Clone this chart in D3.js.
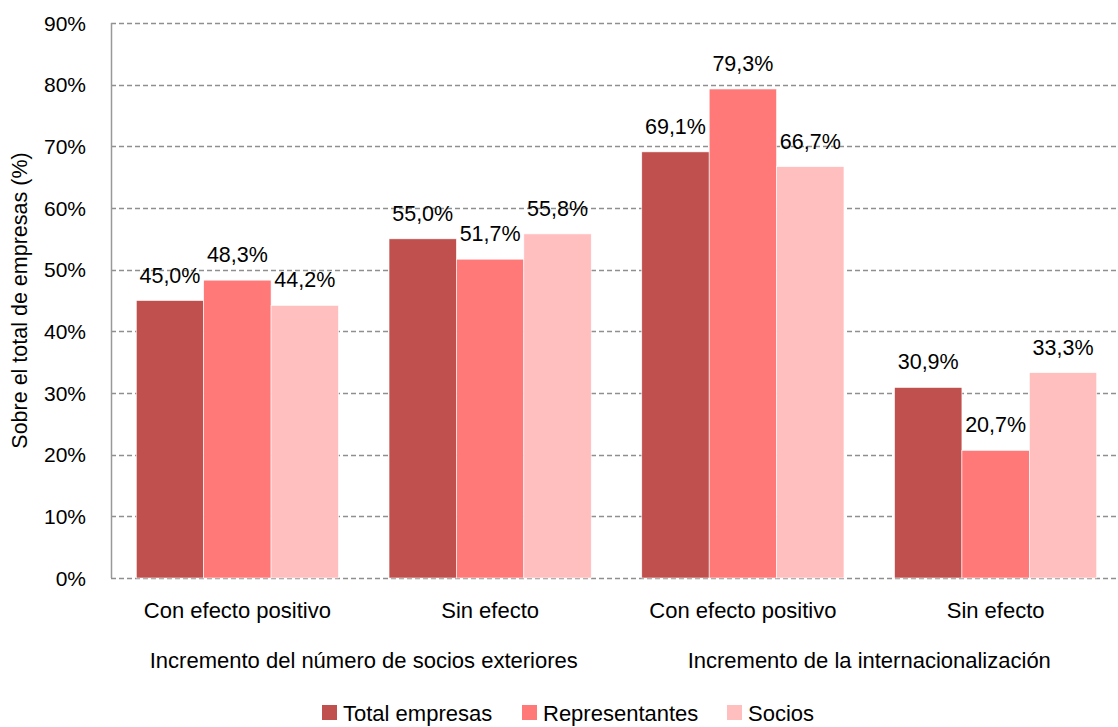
<!DOCTYPE html>
<html>
<head>
<meta charset="utf-8">
<script src="https://cdn.jsdelivr.net/npm/d3@7"></script>
<style>
  body { margin: 0; background: #fff; }
  svg text { font-family: "Liberation Sans", Arial, sans-serif; fill: #000; }
</style>
</head>
<body>
<div id="chart-area"></div>
<script>
const categories = ["c1", "c2", "c3", "c4"];
const categoryLabels = ["Con efecto positivo", "Sin efecto", "Con efecto positivo", "Sin efecto"];
const groupLabels = ["Incremento del número de socios exteriores", "Incremento de la internacionalización"];
const seriesNames = ["Total empresas", "Representantes", "Socios"];
const totalEmpresas = [45.0, 55.0, 69.1, 30.9];
const representantes = [48.3, 51.7, 79.3, 20.7];
const socios = [44.2, 55.8, 66.7, 33.3];
const yTicks = [0, 10, 20, 30, 40, 50, 60, 70, 80, 90];
const seriesColors = ["#C0504D", "#FF7979", "#FFBFBF"];

const seriesValues = [totalEmpresas, representantes, socios];

const chartSize = { width: 1118, height: 727 };
const margin = { left: 111, right: -4, top: 23, bottom: 149 };
const width = chartSize.width - margin.left - margin.right;
const height = chartSize.height - margin.top - margin.bottom;

const svg = d3
  .select("#chart-area")
  .append("svg")
  .attr("width", chartSize.width)
  .attr("height", chartSize.height);

const g = svg.append("g").attr("transform", `translate(${margin.left},${margin.top})`);

const y = d3.scaleLinear().domain([0, 90]).range([height, 0]);

const x = d3
  .scaleBand()
  .domain(categories)
  .range([0, width])
  .paddingInner(0.2)
  .paddingOuter(0.1);

const xs = d3
  .scaleBand()
  .domain(seriesNames)
  .range([0, x.bandwidth()]);

// grid
g.append("g")
  .selectAll("line")
  .data(yTicks)
  .enter()
  .append("line")
  .attr("x1", 0)
  .attr("x2", width)
  .attr("y1", d => Math.round(y(d)) + 0.5)
  .attr("y2", d => Math.round(y(d)) + 0.5)
  .attr("stroke", "#8f8f8f")
  .attr("stroke-width", 1.4)
  .attr("stroke-dasharray", "5,3");

g.append("line")
  .attr("x1", 0.5)
  .attr("x2", 0.5)
  .attr("y1", y(90))
  .attr("y2", y(0))
  .attr("stroke", "#999")
  .attr("stroke-width", 1.5);

// y tick labels
g.append("g")
  .selectAll("text")
  .data(yTicks)
  .enter()
  .append("text")
  .attr("x", -25)
  .attr("y", d => y(d))
  .attr("dy", "0.36em")
  .attr("text-anchor", "end")
  .style("font-size", "21px")
  .text(d => d + "%");

g.append("text")
  .attr("transform", "rotate(-90)")
  .attr("x", -y(45))
  .attr("y", -84)
  .attr("text-anchor", "middle")
  .style("font-size", "21.5px")
  .text("Sobre el total de empresas (%)");

// bars
const bars = [];
categories.forEach((c, i) => {
  seriesNames.forEach((s, j) => {
    bars.push({ cat: c, series: s, value: seriesValues[j][i], color: seriesColors[j] });
  });
});

g.append("g")
  .selectAll("rect")
  .data(bars)
  .enter()
  .append("rect")
  .attr("x", d => x(d.cat) + xs(d.series))
  .attr("y", d => y(d.value))
  .attr("width", xs.bandwidth())
  .attr("height", d => y(0) - y(d.value))
  .attr("fill", d => d.color)
  .attr("stroke", "#fff")
  .attr("stroke-width", 0.6);

g.append("g")
  .selectAll("text")
  .data(bars)
  .enter()
  .append("text")
  .attr("x", d => x(d.cat) + xs(d.series) + xs.bandwidth() / 2)
  .attr("y", d => y(d.value) - 18)
  .attr("text-anchor", "middle")
  .style("font-size", "21.5px")
  .text(d => d.value.toFixed(1).replace(".", ",") + "%");

// category labels
g.append("g")
  .selectAll("text")
  .data(categories)
  .enter()
  .append("text")
  .attr("x", d => x(d) + x.bandwidth() / 2)
  .attr("y", height + 40)
  .attr("text-anchor", "middle")
  .style("font-size", "22px")
  .text((d, i) => categoryLabels[i]);

g.append("g")
  .selectAll("text")
  .data(groupLabels)
  .enter()
  .append("text")
  .attr("x", (d, i) => (x(categories[i * 2]) + x(categories[i * 2 + 1]) + x.bandwidth()) / 2)
  .attr("y", height + 90)
  .attr("text-anchor", "middle")
  .style("font-size", "22px")
  .text(d => d);

// legend
const legendX = [322, 522, 727];
const legend = svg
  .append("g")
  .selectAll("g")
  .data(seriesNames)
  .enter()
  .append("g")
  .attr("transform", (d, i) => `translate(${legendX[i]},705)`);

legend
  .append("rect")
  .attr("width", 15)
  .attr("height", 15)
  .attr("fill", (d, i) => seriesColors[i]);

legend
  .append("text")
  .attr("x", 21)
  .attr("y", 8)
  .attr("dy", "0.36em")
  .style("font-size", "22px")
  .text(d => d);
</script>
</body>
</html>
